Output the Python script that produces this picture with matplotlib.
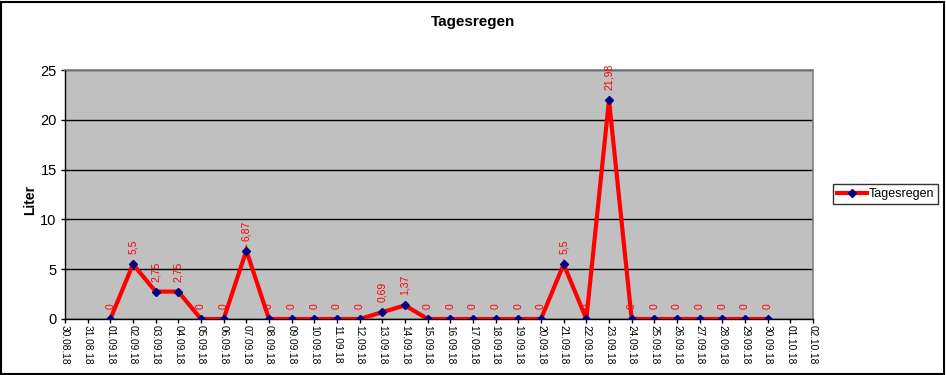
import matplotlib
matplotlib.use("Agg")
import matplotlib.pyplot as plt
from matplotlib.patches import Rectangle

plt.rcParams['font.family'] = ['Liberation Sans', 'DejaVu Sans']

dates = ["30.08.18", "31.08.18"] + [f"{d:02d}.09.18" for d in range(1, 31)] + ["01.10.18", "02.10.18"]
data_dates = [f"{d:02d}.09.18" for d in range(1, 31)]
values = [0, 5.5, 2.75, 2.75, 0, 0, 6.87, 0, 0, 0,
          0, 0, 0.69, 1.37, 0, 0, 0, 0, 0, 0,
          5.5, 0, 21.98, 0, 0, 0, 0, 0, 0, 0]
series_name = "Tagesregen"

W, H = 946, 375
fig = plt.figure(figsize=(W / 100, H / 100), dpi=100)
fig.patch.set_facecolor("white")

# chart border
fig.add_artist(Rectangle((1 / W, 1 / H), (944 - 1) / W, (373 - 1) / H,
                         transform=fig.transFigure, fill=False,
                         edgecolor="black", linewidth=1.5))

left, right, top, bottom = 65, 813, 70, 319
ax = fig.add_axes([left / W, 1 - bottom / H, (right - left) / W, (bottom - top) / H])
ax.set_facecolor("#C0C0C0")

xpos = [dates.index(d) for d in data_dates]
ax.plot(xpos, values, color="#FF0000", linewidth=3, marker="D", markersize=4,
        markerfacecolor="#000080", markeredgecolor="#000080", label=series_name,
        zorder=3, solid_joinstyle="miter")

for x, v in zip(xpos, values):
    txt = f"{v:g}".replace(".", ",")
    ax.annotate(txt, (x, v), xytext=(0, 10), textcoords="offset pixels",
                rotation=90, ha="center", va="bottom", color="#FF0000",
                fontsize=7.5)

ax.set_xlim(0, len(dates) - 1)
ax.set_ylim(0, 25)
ax.set_yticks([0, 5, 10, 15, 20, 25])
ax.set_yticklabels(["0", "5", "10", "15", "20", "25"], fontsize=10.5)
ax.set_xticks(range(len(dates)))
ax.set_xticklabels(dates, rotation=-90, fontsize=7.3, va="top", ha="center")
ax.tick_params(axis="both", direction="out", length=3, width=1, color="black")
ax.tick_params(axis="x", pad=1.5)
ax.tick_params(axis="y", pad=3)
ax.yaxis.grid(True, color="black", linewidth=1)
ax.set_axisbelow(True)
for s in ["top", "right"]:
    ax.spines[s].set_color("#808080")
    ax.spines[s].set_linewidth(1.2)
for s in ["left", "bottom"]:
    ax.spines[s].set_color("black")
    ax.spines[s].set_linewidth(1)

fig.text(473 / W, 1 - 22 / H, "Tagesregen", ha="center", va="center",
         fontsize=11, fontweight="bold")
fig.text(30 / W, 1 - 200 / H, "Liter", ha="center", va="center",
         rotation=90, fontsize=10, fontweight="bold")

leg = fig.legend(loc="center left", bbox_to_anchor=(833 / W, 1 - 194 / H),
                 fontsize=9, frameon=True, fancybox=False, edgecolor="black",
                 borderpad=0.3, handlelength=2.4, handletextpad=0.15,
                 borderaxespad=0)
leg.get_frame().set_linewidth(1)

fig.savefig("out.png", dpi=100)
